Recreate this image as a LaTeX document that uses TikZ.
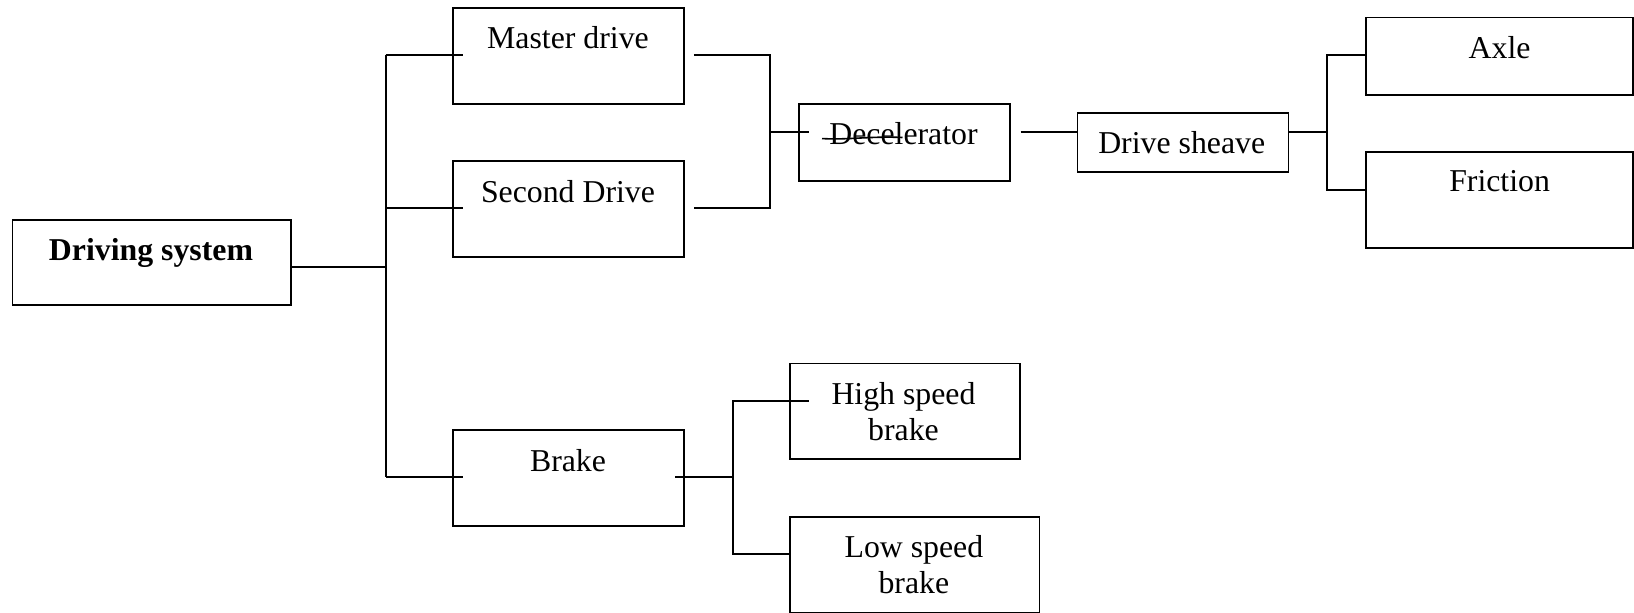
\documentclass[tikz,border=0pt]{standalone}
\usepackage{fontspec}
\setmainfont{Liberation Serif}
\usetikzlibrary{calc}
\begin{document}
\begin{tikzpicture}[x=0.5pt,y=-0.5pt,
  box/.style={draw,line width=0.9pt,rectangle,anchor=north west,inner sep=0pt},
  lbl/.style={inner sep=0pt,align=center,font=\fontsize{15.9}{17.7}\selectfont},
  conn/.style={line width=0.9pt}]
\useasboundingbox (0,0) rectangle (1634,613);
% boxes
\node[box,minimum width=139.1pt,minimum height=42.75pt] (drv) at (11.5,218.8) {};
\node[box,minimum width=115.2pt,minimum height=47.95pt] (master) at (452.3,7.3) {};
\node[box,minimum width=115.2pt,minimum height=47.95pt] (second) at (452.3,160.5) {};
\node[box,minimum width=115.2pt,minimum height=47.95pt] (brake) at (452.3,429.3) {};
\node[box,minimum width=105.5pt,minimum height=38.55pt] (decel) at (798.3,103.2) {};
\node[box,minimum width=105.5pt,minimum height=29.2pt] (sheave) at (1076.5,112.5) {};
\node[box,minimum width=133.5pt,minimum height=38.55pt] (axle) at (1365,16.7) {};
\node[box,minimum width=133.5pt,minimum height=47.95pt] (friction) at (1365,151.1) {};
\node[box,minimum width=114.9pt,minimum height=47.9pt] (high) at (788.9,362.7) {};
\node[box,minimum width=124.8pt,minimum height=47.95pt] (low) at (788.9,515.8) {};
% labels
\node[lbl,font=\fontsize{15.9}{17.7}\selectfont\bfseries] (drvt) at (151,253) {Driving system};
\node[lbl] (mastert) at (568,37.5) {Master drive};
\node[lbl] (secondt) at (568,191.7) {Second Drive};
\node[lbl] (braket) at (568,460.6) {Brake};
\node[lbl] (decelt) at (903.5,133.4) {Decelerator};
\node[lbl] (sheavet) at (1181.7,142.8) {Drive sheave};
\node[lbl] (axlet) at (1499.6,47.9) {Axle};
\node[lbl] (frictiont) at (1499.6,181.3) {Friction};
\node[lbl] (hight) at (903.5,411.6) {High speed\\brake};
\node[lbl] (lowt) at (913.9,564.8) {Low speed\\brake};
% stray stroke over "Dece"
\draw[line width=0.8pt] (822,138.6) .. controls (850,140) and (870,136) .. (902.5,137.5);
% junction coordinates
\coordinate (tA) at (385.6,55.2);
\coordinate (tB) at (385.6,208.4);
\coordinate (tD) at (385.6,266.8);
\coordinate (tC) at (385.6,477.3);
\coordinate (mA) at (770.1,55.2);
\coordinate (mB) at (770.1,208.4);
\coordinate (mC) at (770.1,132.3);
\coordinate (sJ) at (1326.6,132.3);
\coordinate (sA) at (1326.6,55.2);
\coordinate (sB) at (1326.6,189.7);
\coordinate (bJ) at (732.6,477.3);
\coordinate (bH) at (732.6,401.2);
\coordinate (bL) at (732.6,554.4);
% connectors
\draw[conn] (drv.east |- tD) -- (tD);
\draw[conn] (tA) -- (tC);
\draw[conn] (tA) -- ($(master.west |- tA)+(10.4,0)$);
\draw[conn] (tB) -- ($(second.west |- tB)+(10.4,0)$);
\draw[conn] (tC) -- ($(brake.west |- tC)+(10.4,0)$);
\draw[conn] ($(master.east |- mA)+(9.4,0)$) -- (mA) -- (mB) -- ($(second.east |- mB)+(9.4,0)$);
\draw[conn] (mC) -- ($(decel.west |- mC)+(10.4,0)$);
\draw[conn] ($(decel.east |- mC)+(9.4,0)$) -- (sheave.west |- mC);
\draw[conn] (sheave.east |- sJ) -- (sJ);
\draw[conn] (axle.west |- sA) -- (sA) -- (sB) -- (friction.west |- sB);
\draw[conn] ($(brake.east |- bJ)+(-9.4,0)$) -- (bJ);
\draw[conn] ($(high.west |- bH)+(19.8,0)$) -- (bH) -- (bL) -- (low.west |- bL);
\end{tikzpicture}
\end{document}
